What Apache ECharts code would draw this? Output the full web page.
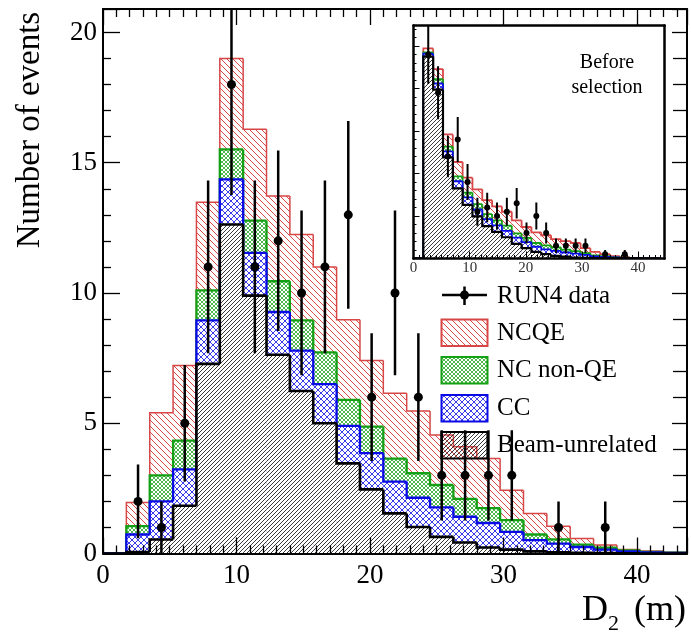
<!DOCTYPE html>
<html><head><meta charset="utf-8">
<script src="https://cdn.jsdelivr.net/npm/echarts@6/dist/echarts.min.js"></script>
<style>html,body{margin:0;padding:0;background:#fff}#c{width:691px;height:640px}</style>
</head><body><div id="c"></div>
<script>
// ---------- data ----------
const binEdges = [0,1.75,3.5,5.25,7,8.75,10.5,12.25,14,15.75,17.5,19.25,21,22.75,24.5,26.25,28,29.75,31.5,33.25,35,36.75,38.5,40.25,42,43.75];
const beamUnrelated = [0,0.06,0.54,1.83,7.28,12.63,9.90,7.63,6.24,5.00,3.46,2.46,1.54,1.02,0.64,0.42,0.23,0.15,0.08,0.05,0.03,0.02,0.01,0,0];
const ccEvents      = [0,0.67,1.46,1.40,1.67,1.73,1.64,1.64,1.55,1.50,1.44,1.39,1.22,1.12,1.13,0.99,0.94,0.68,0.43,0.33,0.22,0.13,0.07,0.04,0.02];
const ncNonQE       = [0,0.32,1.00,1.10,1.15,1.15,1.24,1.18,1.16,1.22,1.00,1.02,0.88,0.94,0.86,0.69,0.57,0.45,0.22,0.16,0.09,0.07,0.04,0.02,0.01];
const ncqe          = [0,0.91,2.40,2.89,3.38,3.49,3.50,3.27,3.29,3.28,3.07,2.54,2.51,2.39,1.92,2.00,1.91,1.15,0.81,0.51,0.24,0.11,0.03,0.04,0.02];
const run4Data      = [0,2,1,5,11,18,11,12,10,11,13,6,10,6,3,3,3,3,0,1,0,1,0,0,0];
// inset: before selection
const beamUnrelatedBefore = [0,47.5,39.7,23.8,16.5,12.63,9.90,7.63,6.24,5.00,3.46,2.46,1.54,1.02,0.64,0.42,0.23,0.15,0.08,0.05,0.03,0.02,0.01,0,0];
const run4DataBefore      = [0,48,39,24,28,18,11,12,10,11,13,6,10,6,3,3,3,3,0,1,0,1,0,0,0];
const legendLabels = ['RUN4 data','NCQE','NC non-QE','CC','Beam-unrelated'];

// ---------- style ----------
const FONT = 'Liberation Serif';
const RED = '#d84646', GREEN = '#14a014', BLUE = '#0a0ae6', BLACK = '#000';

function hatch(size, color, dirs, lw, bg){
  const c = document.createElement('canvas'); c.width = c.height = size;
  const g = c.getContext('2d');
  if (bg){ g.fillStyle = bg; g.fillRect(0,0,size,size); }
  g.strokeStyle = color; g.lineWidth = lw;
  dirs.forEach(d => {
    g.beginPath();
    if (d === '/'){
      g.moveTo(-1,size+1); g.lineTo(size+1,-1);
      g.moveTo(-1,1); g.lineTo(1,-1);
      g.moveTo(size-1,size+1); g.lineTo(size+1,size-1);
    } else {
      g.moveTo(-1,-1); g.lineTo(size+1,size+1);
      g.moveTo(size-1,-1); g.lineTo(size+1,1);
      g.moveTo(-1,size-1); g.lineTo(1,size+1);
    }
    g.stroke();
  });
  return {image: c, repeat: 'repeat'};
}
const patRed   = hatch(6, RED, ['\\'], 1, '#fff');
const patGreen = hatch(4, GREEN, ['/','\\'], 0.75, '#fff');
const patBlue  = hatch(6, BLUE, ['/','\\'], 0.8, '#fff');
const patBlack = hatch(4, '#222', ['/'], 0.9, '#fff');
const patBlackLeg = hatch(4, '#222', ['/'], 0.9, null);

function cumulate(arrs){
  const out = []; let run = arrs[0].map(()=>0);
  arrs.forEach(a => { run = run.map((v,i)=>v + a[i]); out.push(run.slice()); });
  return out;
}

function histSeries(cum, fill, color, lw, z, xi, yi){
  return {
    type:'custom', xAxisIndex:xi, yAxisIndex:yi, z:z, clip:true, silent:true,
    data: cum.map((v,i)=>[binEdges[i], binEdges[i+1], v, i>0?cum[i-1]:0, i===cum.length-1?1:0]),
    renderItem(params, api){
      const x0=api.value(0), x1=api.value(1), v=api.value(2), pv=api.value(3), last=api.value(4);
      const p00=api.coord([x0,0]), p11=api.coord([x1,v]), pPrev=api.coord([x0,pv]), p01=api.coord([x0,v]);
      const ch=[];
      if (v>0) ch.push({type:'rect', z2:0, shape:{x:p00[0], y:p11[1], width:p11[0]-p00[0], height:p00[1]-p11[1]}, style:{fill:fill}});
      const pts=[pPrev,p01,p11];
      if (last) pts.push(api.coord([x1,0]));
      ch.push({type:'polyline', z2:1, shape:{points:pts}, style:{stroke:color, lineWidth:lw, fill:null}});
      return {type:'group', children:ch};
    }
  };
}

function dataSeries(vals, xi, yi, r, lw, ymax){
  const d=[];
  vals.forEach((v,i)=>{ if(v>0) d.push([(binEdges[i]+binEdges[i+1])/2, v]); });
  return {
    type:'custom', xAxisIndex:xi, yAxisIndex:yi, z:10, clip:true, silent:true, data:d,
    renderItem(params, api){
      const x=api.value(0), v=api.value(1), e=Math.sqrt(v);
      const pc=api.coord([x,v]), pl=api.coord([x,Math.max(0,v-e)]), ph=api.coord([x,Math.min(ymax,v+e)]);
      return {type:'group', children:[
        {type:'line', shape:{x1:pl[0],y1:pl[1],x2:ph[0],y2:ph[1]}, style:{stroke:'#000', lineWidth:lw}},
        {type:'circle', shape:{cx:pc[0], cy:pc[1], r:r}, style:{fill:'#000'}}
      ]};
    }
  };
}

const mainCum = cumulate([beamUnrelated, ccEvents, ncNonQE, ncqe]);
const insetCum = cumulate([beamUnrelatedBefore, ccEvents, ncNonQE, ncqe]);
const YMAX = 20.9, XMAX = 43.75, IYMAX = 54.8, IXMAX = 44.7;

function xAx(grid, pos, max, opts){
  return Object.assign({
    type:'value', gridIndex:grid, position:pos, min:0, max:max, interval:10, z:50,
    axisLine:{onZero:false, lineStyle:{color:'#000', width:2}},
    axisTick:{inside:true, length:16, lineStyle:{color:'#000', width:1.3}},
    minorTick:{show:true, splitNumber:10, length:8, lineStyle:{color:'#000', width:1.3}},
    axisLabel:{show:false}, splitLine:{show:false}
  }, opts);
}

const option = {
  animation:false, backgroundColor:'#fff',
  grid:[
    {left:103, top:9, width:584, height:544.5},
    {left:413.5, top:25.5, width:251, height:233}
  ],
  xAxis:[
    xAx(0,'bottom',XMAX,{axisLabel:{show:true, fontFamily:FONT, fontSize:27, color:'#000', margin:9, showMaxLabel:false}}),
    xAx(0,'top',XMAX,{}),
    xAx(1,'bottom',IXMAX,{axisLine:{onZero:false, lineStyle:{color:'#000', width:2.5}},
        axisTick:{inside:true, length:7, lineStyle:{color:'#000', width:1}},
        minorTick:{show:true, splitNumber:10, length:3.5, lineStyle:{color:'#000', width:1}},
        axisLabel:{show:true, fontFamily:FONT, fontSize:15, color:'#333', margin:2, showMaxLabel:false}}),
    xAx(1,'top',IXMAX,{axisLine:{onZero:false, lineStyle:{color:'#000', width:2.5}}, axisTick:{show:false}, minorTick:{show:false}})
  ],
  yAxis:[
    {type:'value', gridIndex:0, position:'left', min:0, max:YMAX, interval:5, z:50,
     axisLine:{onZero:false, lineStyle:{color:'#000', width:2}},
     axisTick:{inside:true, length:17, lineStyle:{color:'#000', width:1.3}},
     minorTick:{show:true, splitNumber:5, length:8, lineStyle:{color:'#000', width:1.3}},
     axisLabel:{fontFamily:FONT, fontSize:27, color:'#000', margin:6, showMaxLabel:false},
     splitLine:{show:false}},
    {type:'value', gridIndex:0, position:'right', min:0, max:YMAX, interval:5, z:50,
     axisLine:{onZero:false, lineStyle:{color:'#000', width:2}},
     axisTick:{inside:true, length:15, lineStyle:{color:'#000', width:1.3}},
     minorTick:{show:true, splitNumber:5, length:14, lineStyle:{color:'#000', width:1.3}},
     axisLabel:{show:false}, splitLine:{show:false}},
    {type:'value', gridIndex:1, position:'left', min:0, max:IYMAX, interval:10, z:50,
     axisLine:{onZero:false, lineStyle:{color:'#000', width:2.5}},
     axisTick:{inside:true, length:6, lineStyle:{color:'#000', width:1}},
     minorTick:{show:true, splitNumber:5, length:3, lineStyle:{color:'#000', width:1}},
     axisLabel:{show:false}, splitLine:{show:false}},
    {type:'value', gridIndex:1, position:'right', min:0, max:IYMAX, interval:10, z:50,
     axisLine:{onZero:false, lineStyle:{color:'#000', width:2.5}},
     axisTick:{show:false}, axisLabel:{show:false}, splitLine:{show:false}}
  ],
  series:[
    histSeries(mainCum[3], patRed, RED, 1.5, 2, 0, 0),
    histSeries(mainCum[2], patGreen, GREEN, 2.3, 3, 0, 0),
    histSeries(mainCum[1], patBlue, BLUE, 2.3, 4, 0, 0),
    histSeries(mainCum[0], patBlack, BLACK, 2.6, 5, 0, 0),
    dataSeries(run4Data, 0, 0, 4.5, 2.5, YMAX),
    histSeries(insetCum[3], patRed, RED, 1.8, 2, 2, 2),
    histSeries(insetCum[2], patGreen, GREEN, 1.8, 3, 2, 2),
    histSeries(insetCum[1], patBlue, BLUE, 1.8, 4, 2, 2),
    histSeries(insetCum[0], patBlack, BLACK, 2.2, 5, 2, 2),
    dataSeries(run4DataBefore, 2, 2, 3, 2, IYMAX)
  ],
  graphic:[
    {type:'text', z:100, x:30, y:130, rotation:Math.PI/2,
     style:{text:'Number of events', font:'33px "Liberation Serif"', fill:'#000', align:'center', verticalAlign:'middle'}},
    {type:'text', z:100, x:582, y:611, style:{text:'D', font:'36px "Liberation Serif"', fill:'#000', align:'left', verticalAlign:'middle'}},
    {type:'text', z:100, x:608, y:624, style:{text:'2', font:'22px "Liberation Serif"', fill:'#000', align:'left', verticalAlign:'middle'}},
    {type:'text', z:100, x:686, y:611, style:{text:'(m)', font:'36px "Liberation Serif"', fill:'#000', align:'right', verticalAlign:'middle'}},
    {type:'text', z:100, x:607, y:63, style:{text:'Before', font:'20px "Liberation Serif"', fill:'#000', align:'center', verticalAlign:'middle'}},
    {type:'text', z:100, x:607, y:88, style:{text:'selection', font:'20px "Liberation Serif"', fill:'#000', align:'center', verticalAlign:'middle'}},
    // legend
    {type:'line', z:100, shape:{x1:442, y1:295, x2:487, y2:295}, style:{stroke:'#000', lineWidth:2.5}},
    {type:'line', z:100, shape:{x1:464.5, y1:286.5, x2:464.5, y2:305}, style:{stroke:'#000', lineWidth:2.5}},
    {type:'circle', z:100, shape:{cx:464.5, cy:295, r:4.5}, style:{fill:'#000'}},
    {type:'rect', z:100, shape:{x:441.5, y:319.5, width:46, height:26.5}, style:{fill:patRed, stroke:RED, lineWidth:2}},
    {type:'rect', z:100, shape:{x:441.5, y:357, width:46, height:26.5}, style:{fill:patGreen, stroke:GREEN, lineWidth:2}},
    {type:'rect', z:100, shape:{x:441.5, y:395, width:46, height:26.5}, style:{fill:patBlue, stroke:BLUE, lineWidth:2}},
    {type:'rect', z:100, shape:{x:441.5, y:432, width:46, height:26.5}, style:{fill:patBlackLeg, stroke:'#000', lineWidth:2.2}},
    {type:'text', z:100, x:497, y:296, style:{text:legendLabels[0], font:'25px "Liberation Serif"', fill:'#000', verticalAlign:'middle'}},
    {type:'text', z:100, x:497, y:333, style:{text:legendLabels[1], font:'25px "Liberation Serif"', fill:'#000', verticalAlign:'middle'}},
    {type:'text', z:100, x:497, y:370, style:{text:legendLabels[2], font:'25px "Liberation Serif"', fill:'#000', verticalAlign:'middle'}},
    {type:'text', z:100, x:497, y:408, style:{text:legendLabels[3], font:'25px "Liberation Serif"', fill:'#000', verticalAlign:'middle'}},
    {type:'text', z:100, x:497, y:445, style:{text:legendLabels[4], font:'25px "Liberation Serif"', fill:'#000', verticalAlign:'middle'}}
  ]
};
const chart = echarts.init(document.getElementById('c'), null, {renderer:'canvas'});
chart.setOption(option);
</script></body></html>
